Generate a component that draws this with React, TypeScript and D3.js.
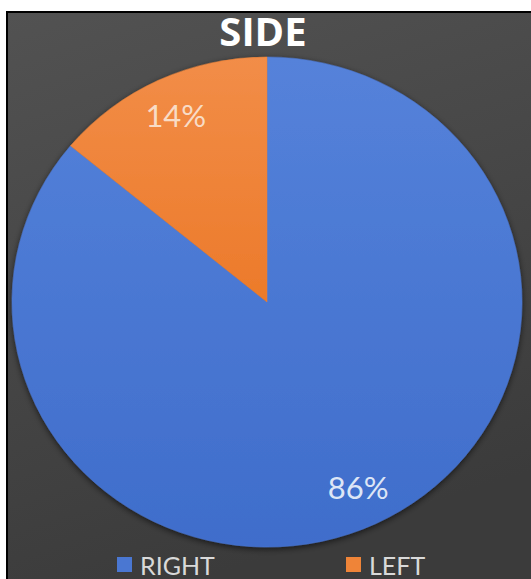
import React from "react";
import * as d3 from "d3";

const categories = ["RIGHT", "LEFT"];
const values = [86, 14];
const colors = ["#4a77d2", "#ef8438"];
const labelColors = ["#dde6f6", "#f8dcc6"];
const title = "SIDE";

const W = 531;
const H = 579;
const cx = 267;
const cy = 302;
const rx = 255;
const ry = 245;

export default function App() {
  const pie = d3.pie<number>().sort(null).value((d) => d);
  const arcs = pie(values);
  const R = 250;
  const arc = d3.arc<d3.PieArcDatum<number>>().innerRadius(0).outerRadius(R);
  const labelArc = d3.arc<d3.PieArcDatum<number>>().innerRadius(R * 0.84).outerRadius(R * 0.84);
  const sx = rx / R;
  const sy = ry / R;
  const total = d3.sum(values);

  const legendX = [117, 346];
  const legendY = 564;

  return (
    <svg
      width={W}
      height={H}
      style={{ position: "absolute", left: 0, top: 0 }}
      xmlns="http://www.w3.org/2000/svg"
    >
      <defs>
        <linearGradient id="bg" x1="0" y1="0" x2="0.3" y2="1">
          <stop offset="0" stopColor="#525252" />
          <stop offset="1" stopColor="#3b3b3b" />
        </linearGradient>
        <linearGradient id="g0" x1="0" y1="0" x2="0" y2="1">
          <stop offset="0" stopColor="#5582da" />
          <stop offset="1" stopColor="#3f6dcb" />
        </linearGradient>
        <linearGradient id="g1" x1="0" y1="0" x2="0" y2="1">
          <stop offset="0" stopColor="#f28d48" />
          <stop offset="1" stopColor="#ec7a2a" />
        </linearGradient>
        <filter id="sh" x="-10%" y="-10%" width="120%" height="120%">
          <feDropShadow dx="0" dy="2" stdDeviation="3" floodColor="#000" floodOpacity="0.6" />
        </filter>
      </defs>
      <rect x={0} y={0} width={W} height={H} fill="#ffffff" />
      <rect x={7} y={12} width={W} height={H} fill="url(#bg)" stroke="#000" strokeWidth={2} />
      <text
        x={263}
        y={46}
        textAnchor="middle"
        fontFamily="'Open Sans', 'Noto Sans', sans-serif"
        fontWeight={700}
        fontSize={40}
        fill="#ffffff"
      >
        {title}
      </text>
      <g transform={`translate(${cx},${cy}) scale(${sx},${sy})`} filter="url(#sh)">
        {arcs.map((a, i) => (
          <path key={i} d={arc(a) || ""} fill={`url(#g${i})`} stroke={colors[i]} strokeWidth={0.5} />
        ))}
      </g>
      {arcs.map((a, i) => {
        const [lx, ly] = labelArc.centroid(a);
        return (
          <text
            key={i}
            x={cx + lx * sx}
            y={cy + ly * sy}
            dy="0.36em"
            textAnchor="middle"
            fontFamily="Lato, 'Noto Sans', sans-serif"
            fontSize={31}
            fill={labelColors[i]}
          >
            {`${Math.round((values[i] / total) * 100)}%`}
          </text>
        );
      })}
      {categories.map((c, i) => (
        <g key={c}>
          <rect x={legendX[i]} y={legendY - 7} width={15} height={15} fill={colors[i]} />
          <text
            x={legendX[i] + 23}
            y={legendY + 11}
            fontFamily="Lato, 'Noto Sans', sans-serif"
            fontSize={25}
            fill="#d9d9d9"
          >
            {c}
          </text>
        </g>
      ))}
    </svg>
  );
}
